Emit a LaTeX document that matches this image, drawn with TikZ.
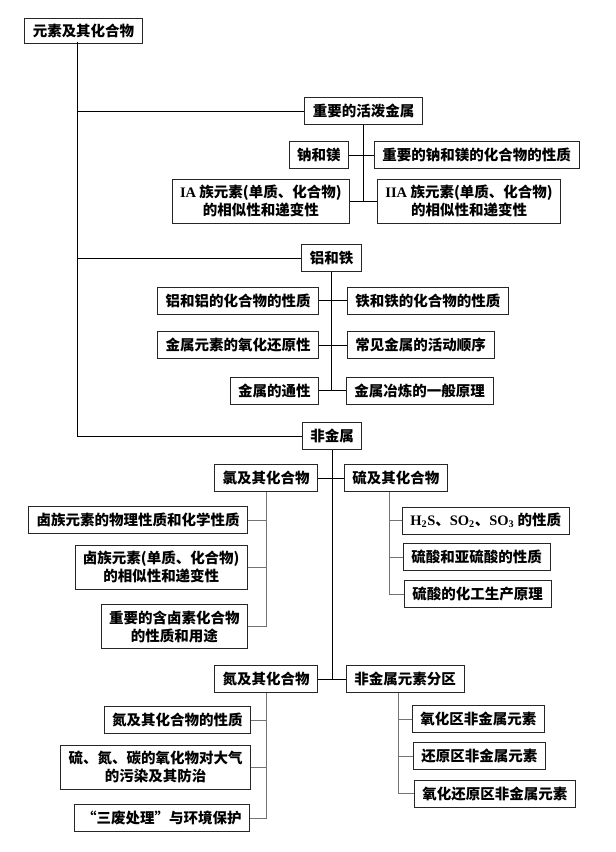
\documentclass[tikz,border=0pt]{standalone}
\usepackage{fontspec}
\setmainfont{Liberation Serif}
\newfontfamily\cjk{Noto Sans CJK SC}
\newfontfamily\lat{Liberation Serif}
\usetikzlibrary{positioning}

\begin{document}
\begin{tikzpicture}[x=1pt,y=-1pt,line width=0.9pt,
    box/.style={draw=black!85,fill=white,inner xsep=8pt,inner ysep=6pt,minimum height=27pt,align=center,font=\cjk\bfseries\fontsize{14.5}{18}\selectfont},
    twig/.style={draw=black!55}]
  \useasboundingbox (0,0) rectangle (616,852);

  \node[box,minimum height=22pt] (root) at (83.5,31) {元素及其化合物};
  \coordinate (trunk) at (77,42);

  \node[box] (huopo) at (363.5,111) {重要的活泼金属};
  \node[box,anchor=east] (namei) at (349,155) {钠和镁};
  \node[box] (nameihw) [right=25pt of namei] {重要的钠和镁的化合物的性质};
  \node[box,anchor=east] (ia) at (350,201) {{\lat IA} 族元素(单质、化合物)\\的相似性和递变性};
  \node[box] (iia) [right=27pt of ia] {{\lat IIA} 族元素(单质、化合物)\\的相似性和递变性};

  \node[box] (lvtie) at (331.5,258) {铝和铁};
  \node[box,anchor=east] (lv) at (319,300.5) {铝和铝的化合物的性质};
  \node[box] (tie) [right=28pt of lv] {铁和铁的化合物的性质};
  \node[box,anchor=east] (yanghua) at (319,345) {金属元素的氧化还原性};
  \node[box] (huodong) [right=28pt of yanghua] {常见金属的活动顺序};
  \node[box,anchor=east] (tongxing) at (319,390.5) {金属的通性};
  \node[box] (yelian) [right=27pt of tongxing] {金属冶炼的一般原理};

  \node[box] (feijinshu) at (332,436) {非金属};
  \node[box,anchor=east] (lvqi) at (318,478) {氯及其化合物};
  \node[box] (liu) [right=26pt of lvqi] {硫及其化合物};
  \node[box,anchor=east] (luzu) at (248,520) {卤族元素的物理性质和化学性质};
  \node[box,anchor=east] (luxi) at (248,567) {卤族元素(单质、化合物)\\的相似性和递变性};
  \node[box,anchor=east] (luyong) at (248,626.5) {重要的含卤素化合物\\的性质和用途};
  \node[box,anchor=west] (liuyang) at (402,520.5) {{\lat H\textsubscript{2}S}、{\lat SO\textsubscript{2}}、{\lat SO\textsubscript{3}} 的性质};
  \node[box,anchor=west] (liusuan) at (403,557) {硫酸和亚硫酸的性质};
  \node[box,anchor=west] (liusheng) at (404,594) {硫酸的化工生产原理};

  \node[box,anchor=east] (dan) at (318,679) {氮及其化合物};
  \node[box] (fenqu) [right=28pt of dan] {非金属元素分区};
  \node[box,anchor=east] (danxing) at (251,720) {氮及其化合物的性质};
  \node[box,anchor=east] (wuran) at (251,767) {硫、氮、碳的氧化物对大气\\的污染及其防治};
  \node[box,anchor=east] (sanfei) at (250,818) {“三废处理”与环境保护};
  \node[box,anchor=west] (yangqu) at (412,719) {氧化区非金属元素};
  \node[box,anchor=west] (huanqu) at (413,756) {还原区非金属元素};
  \node[box,anchor=west] (yhqu) at (414,793.5) {氧化还原区非金属元素};

  \draw (trunk) |- (feijinshu.west);
  \draw (trunk |- huopo.west) -- (huopo.west);
  \draw (trunk |- lvtie.west) -- (lvtie.west);

  \draw (huopo.south) -- (huopo.south |- ia.east);
  \draw (namei.east) -- (nameihw.west);
  \draw (ia.east) -- (iia.west);

  \draw (lvtie.south) -- (lvtie.south |- tongxing.east);
  \draw (lv.east) -- (tie.west);
  \draw (yanghua.east) -- (huodong.west);
  \draw (tongxing.east) -- (yelian.west);

  \draw (feijinshu.south) -- (feijinshu.south |- dan.east);
  \draw (lvqi.east) -- (liu.west);
  \draw (dan.east) -- (fenqu.west);

  \draw[twig] (lvqi.south) |- (luyong.east);
  \draw[twig] (luzu.east) -- (luzu.east -| lvqi.south);
  \draw[twig] (luxi.east) -- (luxi.east -| lvqi.south);
  \coordinate (liuv) at ([xshift=-7pt]liu.south);
  \draw[twig] (liuv) |- (liusheng.west);
  \draw[twig] (liuyang.west) -- (liuyang.west -| liuv);
  \draw[twig] (liusuan.west) -- (liusuan.west -| liuv);

  \draw[twig] (dan.south) |- (sanfei.east);
  \draw[twig] (danxing.east) -- (danxing.east -| dan.south);
  \draw[twig] (wuran.east) -- (wuran.east -| dan.south);
  \coordinate (fenv) at ([xshift=-7pt]fenqu.south);
  \draw[twig] (fenv) |- (yhqu.west);
  \draw[twig] (yangqu.west) -- (yangqu.west -| fenv);
  \draw[twig] (huanqu.west) -- (huanqu.west -| fenv);
\end{tikzpicture}
\end{document}
